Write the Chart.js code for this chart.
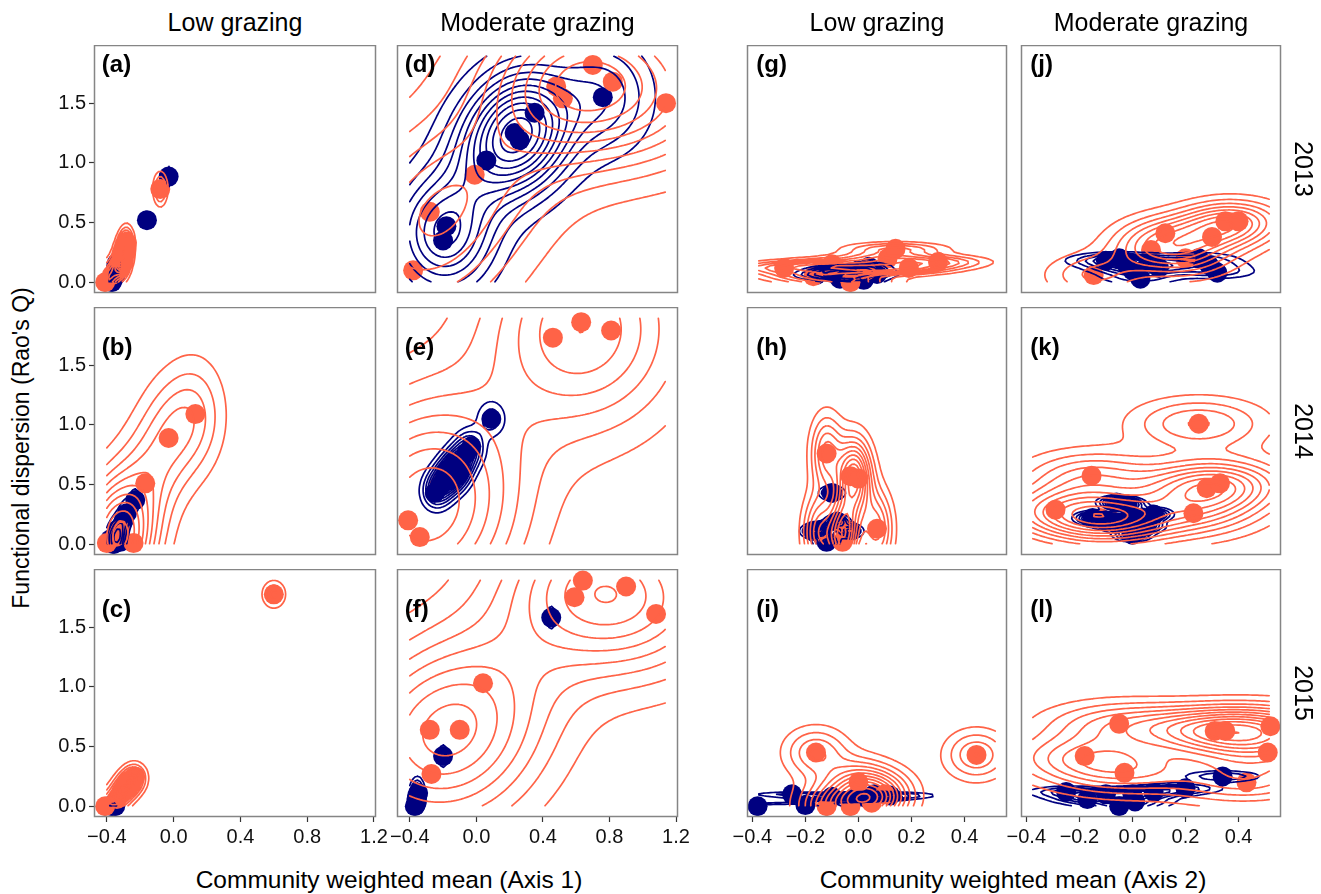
<!DOCTYPE html>
<html>
<head>
<meta charset="utf-8">
<script src="https://cdn.jsdelivr.net/npm/chart.js@4.4.1/dist/chart.umd.min.js"></script>
<style>
body { margin: 0; background: #fff; width: 1321px; height: 894px; position: relative; overflow: hidden;
       font-family: "Liberation Sans", Arial, sans-serif; color: #000; }
canvas { position: absolute; }
.t { position: absolute; transform: translate(-50%, -50%); white-space: nowrap; line-height: 1; font-size: 25px; }
</style>
</head>
<body>
<script>
// categories and labels
const grazingLevels = ['Low grazing', 'Moderate grazing'];
const years = ['2013', '2014', '2015'];
const panelTags = ['(a)', '(b)', '(c)', '(d)', '(e)', '(f)', '(g)', '(h)', '(i)', '(j)', '(k)', '(l)'];
const xTitles = ['Community weighted mean (Axis 1)', 'Community weighted mean (Axis 2)'];
const yTitle = "Functional dispersion (Rao's Q)";
const xTicksAxis1 = [-0.4, 0, 0.4, 0.8, 1.2];
const xTicksAxis2 = [-0.4, -0.2, 0, 0.2, 0.4];
const yTicks = [0, 0.5, 1, 1.5];

// points [CWM, FDis], navy and tomato groups
const navyA = [[-0.37, 0.0], [-0.365, 0.02], [-0.36, 0.04], [-0.355, 0.07], [-0.35, 0.1], [-0.345, 0.13], [-0.35, 0.05], [-0.34, 0.16], [-0.16, 0.52], [-0.03, 0.885]];
const coralA = [[-0.41, 0.0], [-0.37, 0.06], [-0.33, 0.14], [-0.31, 0.22], [-0.29, 0.28], [-0.28, 0.33], [-0.3, 0.18], [-0.08, 0.78]];
const navyB = [[-0.38, 0.04], [-0.36, 0.0], [-0.33, 0.09], [-0.32, 0.02], [-0.3, 0.2], [-0.28, 0.26], [-0.23, 0.37], [-0.34, 0.12]];
const coralB = [[-0.4, 0.01], [-0.35, 0.06], [-0.32, 0.12], [-0.24, 0.01], [-0.17, 0.51], [-0.03, 0.89], [0.13, 1.09]];
const navyC = [[-0.37, 0.0], [-0.36, 0.01], [-0.35, 0.0], [-0.36, 0.02]];
const coralC = [[-0.41, 0.0], [-0.34, 0.06], [-0.31, 0.12], [-0.28, 0.17], [-0.25, 0.21], [-0.23, 0.25], [0.6, 1.775]];
const navyD = [[-0.2, 0.35], [-0.18, 0.47], [0.06, 1.02], [0.23, 1.25], [0.26, 1.19], [0.35, 1.42], [0.76, 1.55]];
const coralD = [[-0.38, 0.1], [-0.28, 0.59], [-0.01, 0.9], [0.48, 1.64], [0.52, 1.54], [0.7, 1.82], [0.82, 1.68], [1.14, 1.5]];
const navyE = [[0.09, 1.05], [-0.03, 0.82], [-0.06, 0.76], [-0.1, 0.69], [-0.13, 0.63], [-0.16, 0.58], [-0.19, 0.53], [-0.22, 0.48], [-0.25, 0.43], [-0.12, 0.6]];
const coralE = [[-0.41, 0.2], [-0.34, 0.06], [-0.22, 0.5], [-0.2, 0.55], [0.46, 1.73], [0.63, 1.86], [0.81, 1.79]];
const navyF = [[-0.37, 0.0], [-0.365, 0.01], [-0.36, 0.03], [-0.36, 0.06], [-0.355, 0.09], [-0.35, 0.11], [-0.2, 0.42], [0.45, 1.58]];
const coralF = [[-0.27, 0.27], [-0.28, 0.64], [-0.1, 0.64], [0.04, 1.03], [0.59, 1.75], [0.64, 1.89], [0.9, 1.84], [1.08, 1.61]];
const navyG = [[-0.16, 0.06], [-0.12, 0.1], [-0.07, 0.03], [-0.04, 0.07], [0.0, 0.1], [0.02, 0.02], [0.04, 0.13], [0.07, 0.07]];
const coralG = [[-0.28, 0.12], [-0.17, 0.05], [-0.1, 0.15], [-0.03, 0.0], [0.03, 0.1], [0.11, 0.2], [0.14, 0.28], [0.19, 0.12], [0.3, 0.17]];
const navyH = [[-0.17, 0.11], [-0.14, 0.12], [-0.12, 0.02], [-0.1, 0.43], [-0.08, 0.19], [-0.03, 0.11]];
const coralH = [[-0.15, 0.1], [-0.12, 0.76], [-0.06, 0.02], [-0.05, 0.12], [-0.03, 0.57], [0.0, 0.55], [0.07, 0.13]];
const navyI = [[-0.38, 0.0], [-0.2, 0.01], [-0.25, 0.1], [-0.1, 0.08], [-0.02, 0.06], [0.0, 0.08], [0.03, 0.07], [0.06, 0.1], [0.12, 0.09]];
const coralI = [[-0.16, 0.45], [0.445, 0.43], [-0.12, 0.0], [-0.03, 0.0], [0.05, 0.03], [0.0, 0.2], [0.1, 0.1]];
const navyJ = [[-0.1, 0.18], [-0.05, 0.2], [-0.02, 0.14], [0.0, 0.1], [0.03, 0.03], [0.06, 0.17], [0.1, 0.12], [0.25, 0.2], [0.29, 0.14], [0.32, 0.08]];
const coralJ = [[-0.146, 0.06], [0.07, 0.27], [0.124, 0.41], [0.3, 0.38], [0.35, 0.51], [0.4, 0.51], [0.2, 0.2]];
const navyK = [[-0.15, 0.22], [-0.1, 0.2], [-0.06, 0.17], [-0.02, 0.2], [0.03, 0.22], [0.08, 0.25], [-0.06, 0.35], [-0.02, 0.33], [0.0, 0.08], [0.05, 0.15]];
const coralK = [[-0.29, 0.29], [-0.154, 0.574], [-0.08, 0.2], [-0.12, 0.22], [0.23, 0.26], [0.28, 0.47], [0.33, 0.51], [0.25, 1.01]];
const navyL = [[-0.25, 0.12], [-0.17, 0.06], [-0.1, 0.1], [-0.05, 0.0], [0.01, 0.04], [0.08, 0.12], [0.2, 0.15], [0.34, 0.25], [0.0, 0.1]];
const coralL = [[-0.18, 0.42], [-0.05, 0.69], [-0.03, 0.28], [0.31, 0.63], [0.35, 0.63], [0.43, 0.2], [0.51, 0.45], [0.52, 0.67]];

const panelData = [
  [navyA, coralA], [navyB, coralB], [navyC, coralC],
  [navyD, coralD], [navyE, coralE], [navyF, coralF],
  [navyG, coralG], [navyH, coralH], [navyI, coralI],
  [navyJ, coralJ], [navyK, coralK], [navyL, coralL]
];
const navyOnTop = ['(e)', '(k)'];

const NAVY = '#000080', CORAL = '#ff6347';
const FONT = '"Liberation Sans", Arial, sans-serif';

// layout (pixels)
const colLeft = [94, 397, 747, 1021], colWidth = [282, 281, 260, 260];
const rowTop = [45, 307, 569], rowHeight = 248;
const AXW = 50, AXH = 36, PADR = 24;
const xRange = [[-0.477, 1.212], [-0.42, 0.56]];
const yRange = [-0.09, 1.987];

// ---- 2d density, the way stat_density2d does it (MASS::kde2d + contourLines)
function quantile(s, p) {
  const h = (s.length - 1) * p, lo = Math.floor(h);
  const hi = Math.min(lo + 1, s.length - 1);
  return s[lo] + (h - lo) * (s[hi] - s[lo]);
}
function bandwidthNrd(v) {
  const n = v.length, m = v.reduce((a, b) => a + b, 0) / n;
  const sd = Math.sqrt(v.reduce((a, b) => a + (b - m) ** 2, 0) / (n - 1));
  const s = [...v].sort((a, b) => a - b);
  const iqr = (quantile(s, 0.75) - quantile(s, 0.25)) / 1.34;
  let h = Math.min(sd, iqr);
  if (!(h > 0)) h = sd > 0 ? sd : 0.01;
  return 4 * 1.06 * h * Math.pow(n, -0.2);
}
function kde2d(pts, xl, yl, n = 100) {
  const hx = bandwidthNrd(pts.map(p => p[0])) / 4, hy = bandwidthNrd(pts.map(p => p[1])) / 4;
  const gx = [], gy = [];
  for (let i = 0; i < n; i++) {
    gx.push(xl[0] + (xl[1] - xl[0]) * i / (n - 1));
    gy.push(yl[0] + (yl[1] - yl[0]) * i / (n - 1));
  }
  const z = gx.map(x => gy.map(y => {
    let s = 0;
    pts.forEach(p => { const a = (x - p[0]) / hx, b = (y - p[1]) / hy; s += Math.exp(-0.5 * (a * a + b * b)); });
    return s / (2 * Math.PI * pts.length * hx * hy);
  }));
  return { gx, gy, z };
}
function pretty(lo, hi, n) {
  const h = 1.5, h5 = 0.5 + 1.5 * h;
  const cell = (hi - lo) / n;
  const U = Math.pow(10, Math.floor(Math.log10(cell)));
  let unit = U;
  if (2 * U - cell < h * (cell - unit)) { unit = 2 * U;
    if (5 * U - cell < h5 * (cell - unit)) { unit = 5 * U;
      if (10 * U - cell < h * (cell - unit)) unit = 10 * U; } }
  const ns = Math.floor(lo / unit + 1e-7), nu = Math.ceil(hi / unit - 1e-7);
  const out = [];
  for (let k = ns; k <= nu; k++) out.push(k * unit);
  return out;
}
const CASES = {1: [[3, 0]], 2: [[0, 1]], 3: [[3, 1]], 4: [[1, 2]], 6: [[0, 2]], 7: [[3, 2]], 8: [[2, 3]],
               9: [[0, 2]], 11: [[1, 2]], 12: [[1, 3]], 13: [[0, 1]], 14: [[0, 3]]};
function contourSegments(d, level) {
  const { gx, gy, z } = d, segs = [];
  for (let i = 0; i < gx.length - 1; i++) {
    for (let j = 0; j < gy.length - 1; j++) {
      const v = [z[i][j], z[i + 1][j], z[i + 1][j + 1], z[i][j + 1]];
      const idx = (v[0] > level ? 1 : 0) | (v[1] > level ? 2 : 0) | (v[2] > level ? 4 : 0) | (v[3] > level ? 8 : 0);
      if (idx === 0 || idx === 15) continue;
      const edge = k => {
        if (k === 0) return [gx[i] + (level - v[0]) / (v[1] - v[0]) * (gx[i + 1] - gx[i]), gy[j]];
        if (k === 1) return [gx[i + 1], gy[j] + (level - v[1]) / (v[2] - v[1]) * (gy[j + 1] - gy[j])];
        if (k === 2) return [gx[i + 1] + (level - v[2]) / (v[3] - v[2]) * (gx[i] - gx[i + 1]), gy[j + 1]];
        return [gx[i], gy[j + 1] + (level - v[3]) / (v[0] - v[3]) * (gy[j] - gy[j + 1])];
      };
      let pairs = CASES[idx];
      if (idx === 5 || idx === 10) {
        const centreHigh = (v[0] + v[1] + v[2] + v[3]) / 4 > level;
        if ((idx === 5) === centreHigh) pairs = [[0, 1], [2, 3]];
        else pairs = [[3, 0], [1, 2]];
      }
      pairs.forEach(([a, b]) => { const p = edge(a), q = edge(b); segs.push([p[0], p[1], q[0], q[1]]); });
    }
  }
  return segs;
}
function densityLines(pts, xl, yl) {
  const d = kde2d(pts, xl, yl);
  let zmin = Infinity, zmax = -Infinity;
  d.z.forEach(r => r.forEach(v => { zmin = Math.min(zmin, v); zmax = Math.max(zmax, v); }));
  const segs = [];
  pretty(zmin, zmax, 10).forEach(l => { if (l > zmin && l < zmax) segs.push(...contourSegments(d, l)); });
  return segs;
}
const dataLims = r => { const e = (r[1] - r[0]) * 0.05 / 1.1; return [r[0] + e, r[1] - e]; };

// ---- plugin: density contours, panel tag and frame
function panelPlugin(layers, tag, tagPos) {
  return {
    id: 'panel',
    afterDatasetsDraw(chart) {
      const { ctx, chartArea: a, scales: { x, y } } = chart;
      ctx.save();
      ctx.beginPath(); ctx.rect(a.left, a.top, a.width, a.height); ctx.clip();
      ctx.lineWidth = 1.7; ctx.lineCap = 'round'; ctx.lineJoin = 'round';
      layers.forEach(layer => {
        ctx.strokeStyle = layer.color;
        ctx.beginPath();
        layer.segs.forEach(s => {
          ctx.moveTo(x.getPixelForValue(s[0]), y.getPixelForValue(s[1]));
          ctx.lineTo(x.getPixelForValue(s[2]), y.getPixelForValue(s[3]));
        });
        ctx.stroke();
      });
      ctx.restore();
      ctx.save();
      ctx.font = 'bold 24px ' + FONT;
      ctx.fillStyle = '#000'; ctx.textBaseline = 'middle'; ctx.textAlign = 'left';
      ctx.fillText(tag, x.getPixelForValue(tagPos[0]), y.getPixelForValue(tagPos[1]));
      ctx.strokeStyle = '#858585'; ctx.lineWidth = 1.5;
      ctx.strokeRect(a.left + 0.5, a.top + 0.5, a.width - 1, a.height - 1);
      ctx.restore();
    }
  };
}

const fmt = v => (v < 0 ? '\u2212' : '') + Math.abs(v).toFixed(1);
const toXY = pts => pts.map(p => ({ x: p[0], y: p[1] }));

function buildPanel(col, row) {
  const k = col * 3 + row, tag = panelTags[k];
  const [navy, coral] = panelData[k];
  const group = col < 2 ? 0 : 1;
  const xl = dataLims(xRange[group]), yl = dataLims(yRange);
  const layers = [
    { color: NAVY, segs: densityLines(navy, xl, yl) },
    { color: CORAL, segs: densityLines(coral, xl, yl) }
  ];
  const tagPos = [group === 0 ? -0.43 : -0.385, row === 0 ? 1.82 : 1.64];
  const showX = row === 2, showY = col === 0;
  const navyTop = navyOnTop.includes(tag);

  const canvas = document.createElement('canvas');
  canvas.width = colWidth[col] + AXW + PADR;
  canvas.height = rowHeight + AXH;
  canvas.style.left = (colLeft[col] - AXW) + 'px';
  canvas.style.top = rowTop[row] + 'px';
  document.body.appendChild(canvas);

  new Chart(canvas, {
    type: 'scatter',
    data: {
      datasets: [
        { data: toXY(navy), backgroundColor: NAVY, pointRadius: 10, pointBorderWidth: 0, order: navyTop ? 0 : 1 },
        { data: toXY(coral), backgroundColor: CORAL, pointRadius: 10, pointBorderWidth: 0, order: navyTop ? 1 : 0 }
      ]
    },
    options: {
      responsive: false,
      animation: false,
      events: [],
      layout: { padding: { left: 0, top: 0, bottom: 0, right: PADR }, autoPadding: false },
      plugins: { legend: { display: false }, tooltip: { enabled: false } },
      scales: {
        x: {
          type: 'linear', position: 'bottom',
          min: xRange[group][0], max: xRange[group][1],
          afterBuildTicks: s => { s.ticks = (group === 0 ? xTicksAxis1 : xTicksAxis2).map(v => ({ value: v })); },
          afterFit: s => { s.height = AXH; s.paddingLeft = 0; s.paddingRight = 0; },
          border: { display: false },
          grid: { display: showX, drawOnChartArea: false, tickLength: 5, tickColor: '#333', tickWidth: 1.2 },
          ticks: { display: showX, autoSkip: false, maxRotation: 0, padding: 3, color: '#111',
                   font: { family: FONT, size: 20 }, callback: v => fmt(v) }
        },
        y: {
          type: 'linear', position: 'left',
          min: yRange[0], max: yRange[1],
          afterBuildTicks: s => { s.ticks = yTicks.map(v => ({ value: v })); },
          afterFit: s => { s.width = AXW; s.paddingTop = 0; s.paddingBottom = 0; },
          border: { display: false },
          grid: { display: showY, drawOnChartArea: false, tickLength: 5, tickColor: '#333', tickWidth: 1.2 },
          ticks: { display: showY, autoSkip: false, padding: 3, color: '#111',
                   font: { family: FONT, size: 20 }, callback: v => fmt(v) }
        }
      }
    },
    plugins: [panelPlugin(layers, tag, tagPos)]
  });
}

for (let c = 0; c < 4; c++) for (let r = 0; r < 3; r++) buildPanel(c, r);

// facet strips and axis titles
function addText(txt, left, top, extra, size) {
  const d = document.createElement('div');
  d.className = 't';
  d.textContent = txt;
  d.style.left = left + 'px';
  d.style.top = top + 'px';
  if (size) d.style.fontSize = size + 'px';
  if (extra) d.style.transform = 'translate(-50%, -50%) ' + extra;
  document.body.appendChild(d);
}
colLeft.forEach((l, c) => addText(grazingLevels[c % 2], l + colWidth[c] / 2, 22));
years.forEach((yr, r) => addText(yr, 1303, rowTop[r] + rowHeight / 2, 'rotate(90deg)'));
addText(yTitle, 21, 448, 'rotate(-90deg)', 23);
addText(xTitles[0], 389, 880, null, 24.5);
addText(xTitles[1], 1013, 880, null, 24.5);
</script>
</body>
</html>
